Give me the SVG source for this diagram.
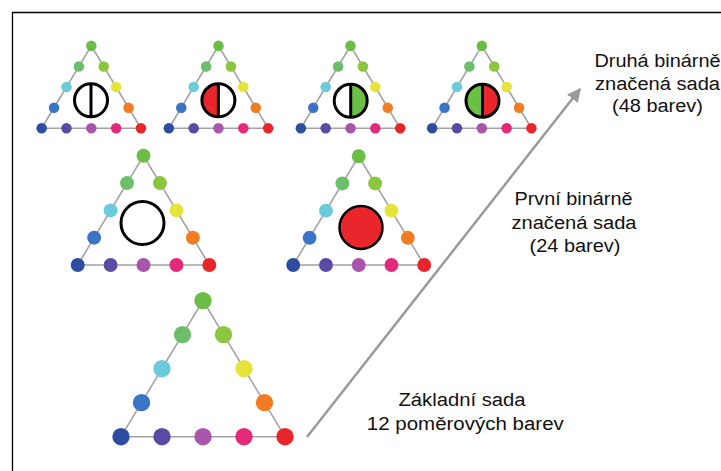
<svg xmlns="http://www.w3.org/2000/svg" xmlns:xlink="http://www.w3.org/1999/xlink" width="721" height="471" viewBox="0 0 721 471">
<style>
.edge{fill:none;stroke:#a3a3a3;stroke-width:1.6}
.ring{stroke:#000;stroke-width:3}
.lbl{font-family:"Liberation Sans",Arial,sans-serif;font-size:18px;fill:#111;text-anchor:middle}
.frame{stroke:#000;stroke-width:1.3;fill:none}
.conn{stroke:#9a9a9a;stroke-width:2.5;fill:none}
</style>
<defs>
<g id="tri">
<path class="edge" vector-effect="non-scaling-stroke" d="M-50,0 L50,0 L0,-83 Z"/>
<circle cx="0" cy="-83" r="5.3" fill="#6cbd45"/>
<circle cx="-12.5" cy="-62.25" r="5.3" fill="#6dbe6b"/>
<circle cx="12.5" cy="-62.25" r="5.3" fill="#8cc63e"/>
<circle cx="-25" cy="-41.5" r="5.3" fill="#6ccbdb"/>
<circle cx="25" cy="-41.5" r="5.3" fill="#e6e43a"/>
<circle cx="-37.5" cy="-20.75" r="5.3" fill="#3a74c4"/>
<circle cx="37.5" cy="-20.75" r="5.3" fill="#f27c21"/>
<circle cx="-50" cy="0" r="5.3" fill="#2d4ea0"/>
<circle cx="-25" cy="0" r="5.3" fill="#5b4aa3"/>
<circle cx="0" cy="0" r="5.3" fill="#a855ac"/>
<circle cx="25" cy="0" r="5.3" fill="#e5297a"/>
<circle cx="50" cy="0" r="5.3" fill="#e8252a"/>
</g>
<marker id="ah" viewBox="0 0 10 10" refX="9" refY="5" markerWidth="5.5" markerHeight="5.5" orient="auto" markerUnits="strokeWidth">
<path d="M0,0 L10,5 L0,10 Z" fill="#9a9a9a"/>
</marker>
</defs>
<rect width="721" height="471" fill="#fff"/>
<path class="frame" d="M12.5,471 L12.5,12.5 L721,12.5"/>

<g id="connectors">
<line class="conn" x1="307" y1="437" x2="580" y2="89" marker-end="url(#ah)"/>
</g>

<g id="t1">
<use xlink:href="#tri" transform="translate(91.3,128.3) scale(0.993)"/>
<circle class="ring" cx="91" cy="100.3" r="16.5" fill="#fff"/>
<line x1="91" y1="83.8" x2="91" y2="116.8" stroke="#000" stroke-width="3"/>
</g>

<g id="t2">
<use xlink:href="#tri" transform="translate(218.5,128.3) scale(0.993)"/>
<circle cx="218.4" cy="100.3" r="16.5" fill="#fff"/>
<path d="M218.4,83.8 A16.5,16.5 0 0 0 218.4,116.8 Z" fill="#e8262b"/>
<circle cx="218.4" cy="100.3" r="16.5" fill="none" stroke="#000" stroke-width="3"/>
<line x1="218.4" y1="83.8" x2="218.4" y2="116.8" stroke="#000" stroke-width="3"/>
</g>

<g id="t3">
<use xlink:href="#tri" transform="translate(350.5,128.3) scale(0.993)"/>
<circle cx="350.7" cy="100.8" r="16.5" fill="#fff"/>
<path d="M350.7,84.3 A16.5,16.5 0 0 1 350.7,117.3 Z" fill="#6abf45"/>
<circle cx="350.7" cy="100.8" r="16.5" fill="none" stroke="#000" stroke-width="3"/>
<line x1="350.7" y1="84.3" x2="350.7" y2="117.3" stroke="#000" stroke-width="3"/>
</g>

<g id="t4">
<use xlink:href="#tri" transform="translate(481.8,128.3) scale(0.993)"/>
<path d="M482.5,84.2 A16.5,16.5 0 0 0 482.5,117.2 Z" fill="#6abf45"/>
<path d="M482.5,84.2 A16.5,16.5 0 0 1 482.5,117.2 Z" fill="#e8262b"/>
<circle cx="482.5" cy="100.7" r="16.5" fill="none" stroke="#000" stroke-width="3"/>
<line x1="482.5" y1="84.2" x2="482.5" y2="117.2" stroke="#000" stroke-width="3"/>
</g>

<g id="t5">
<use xlink:href="#tri" transform="translate(143.5,265) scale(1.316)"/>
<circle class="ring" cx="142.5" cy="223" r="21.5" fill="#fff"/>
</g>

<g id="t6">
<use xlink:href="#tri" transform="translate(358.7,265) scale(1.31)"/>
<circle cx="361" cy="227.5" r="21.5" fill="#e8262b" stroke="#000" stroke-width="2.5"/>
</g>

<g id="t7">
<use xlink:href="#tri" transform="translate(203,436.7) scale(1.64)"/>
</g>

<g id="label-druha">
<text class="lbl" x="657.5" y="67" textLength="126" lengthAdjust="spacingAndGlyphs">Druhá binárně</text>
<text class="lbl" x="657.5" y="90" textLength="125" lengthAdjust="spacingAndGlyphs">značená sada</text>
<text class="lbl" x="657.5" y="112" textLength="91" lengthAdjust="spacingAndGlyphs">(48 barev)</text>
</g>

<g id="label-prvni">
<text class="lbl" x="573.5" y="205" textLength="118" lengthAdjust="spacingAndGlyphs">První binárně</text>
<text class="lbl" x="574" y="229" textLength="125" lengthAdjust="spacingAndGlyphs">značená sada</text>
<text class="lbl" x="575" y="252" textLength="91" lengthAdjust="spacingAndGlyphs">(24 barev)</text>
</g>

<g id="label-zakladni">
<text class="lbl" x="462" y="406" textLength="127" lengthAdjust="spacingAndGlyphs">Základní sada</text>
<text class="lbl" x="465.3" y="430" textLength="197" lengthAdjust="spacingAndGlyphs">12 poměrových barev</text>
</g>
</svg>
